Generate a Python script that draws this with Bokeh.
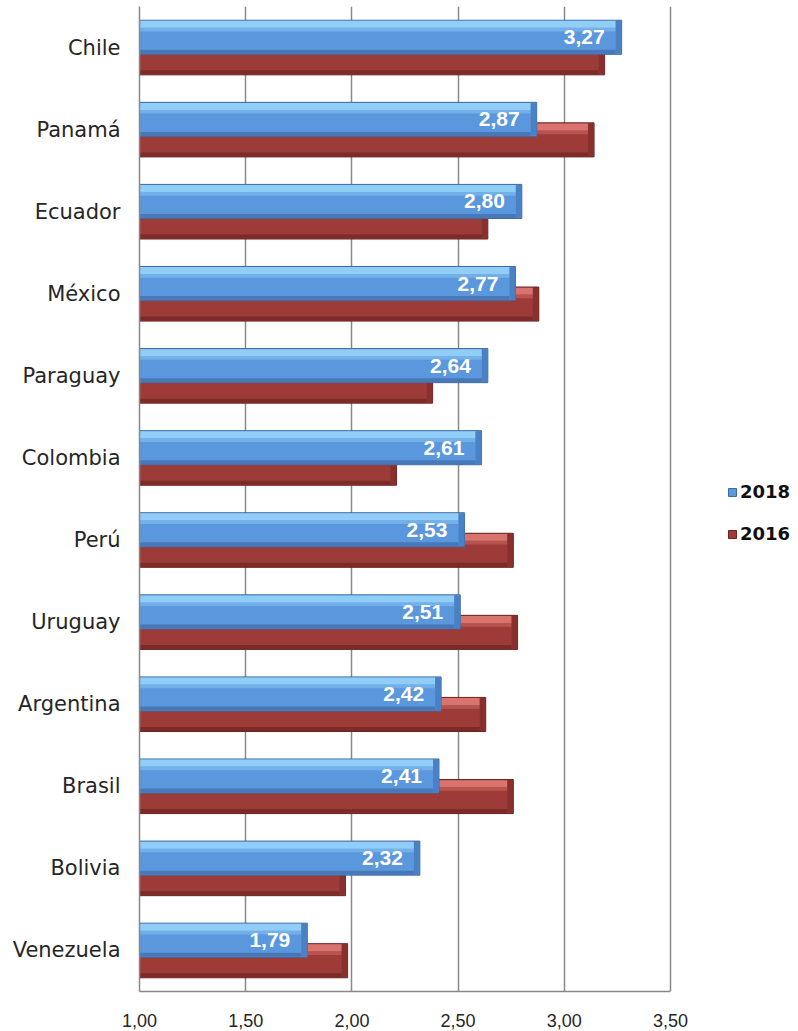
from bokeh.plotting import figure
from bokeh.models import FactorRange, Range1d, FixedTicker, Legend, LegendItem, ColumnDataSource
from bokeh.transform import dodge
from bokeh.core.properties import value
from bokeh.embed import file_html
from bokeh.resources import INLINE

# ---- data ----
countries = ["Chile", "Panamá", "Ecuador", "México", "Paraguay", "Colombia",
             "Perú", "Uruguay", "Argentina", "Brasil", "Bolivia", "Venezuela"]
v2018 = [3.27, 2.87, 2.80, 2.77, 2.64, 2.61, 2.53, 2.51, 2.42, 2.41, 2.32, 1.79]
v2016 = [3.19, 3.14, 2.64, 2.88, 2.38, 2.21, 2.76, 2.78, 2.63, 2.76, 1.97, 1.98]
series = ["2018", "2016"]
x_ticks = [1.0, 1.5, 2.0, 2.5, 3.0, 3.5]
x_tick_labels = ["1,00", "1,50", "2,00", "2,50", "3,00", "3,50"]
labels2018 = [f"{v:.2f}".replace(".", ",") for v in v2018]

BASE = x_ticks[0]

# layout (pixels)
W, H = 798, 1030
LEFT, TOP, BOTTOM = 139, 6, 39
AXIS_PX = 531  # pixel length of the tick span (1,00 .. 3,50)
frame_w = W - LEFT
x_end = x_ticks[0] + (x_ticks[-1] - x_ticks[0]) * frame_w / AXIS_PX

src = ColumnDataSource(dict(country=countries, v2018=v2018, v2016=v2016, lab=labels2018))

p = figure(y_range=FactorRange(factors=countries[::-1]),
           x_range=Range1d(x_ticks[0], x_end),
           width=W, height=H, output_backend="svg", toolbar_location=None,
           min_border_left=LEFT, min_border_right=0, min_border_top=TOP,
           min_border_bottom=BOTTOM)

BAR_H = 0.415
OFF = 0.125
BEV = 0.028


def bar(col, off, main, line, hi, lo, bev):
    yc = dodge("country", off, range=p.y_range)
    r = p.hbar(y=yc, left=BASE, right=col, height=BAR_H, source=src,
               fill_color=main, line_color=line, line_width=1)
    # top highlight
    p.hbar(y=dodge("country", off + BAR_H / 2 - 0.05, range=p.y_range), left=BASE,
           right=dodge(col, -BEV, range=p.x_range), height=0.085, source=src,
           fill_color=hi, line_color=None)
    p.hbar(y=dodge("country", off + BAR_H / 2 - 0.115, range=p.y_range), left=BASE,
           right=dodge(col, -BEV, range=p.x_range), height=0.045, source=src,
           fill_color=hi, fill_alpha=0.45, line_color=None)
    # bottom shade
    p.hbar(y=dodge("country", off - BAR_H / 2 + 0.03, range=p.y_range), left=BASE,
           right=dodge(col, -BEV, range=p.x_range), height=0.05, source=src,
           fill_color=lo, line_color=None)
    # right bevel
    p.hbar(y=yc, left=dodge(col, -BEV, range=p.x_range), right=col, height=BAR_H - 0.02,
           source=src, fill_color=bev, line_color=None)
    return r


r16 = bar("v2016", -OFF, "#9c3b38", "#6a2321", "#d9736e", "#7c2b29", "#87302d")
r18 = bar("v2018", OFF, "#5b97dc", "#3d6aa3", "#90cdf7", "#4878b8", "#4a80c4")

p.text(x="v2018", y=dodge("country", OFF, range=p.y_range), text="lab", source=src,
       x_offset=-17, text_align="right", text_baseline="middle", text_color="white",
       text_font=value("Liberation Sans"), text_font_style="bold", text_font_size="21px")

# axes
p.xaxis.ticker = FixedTicker(ticks=x_ticks)
p.xaxis.bounds = (x_ticks[0], x_ticks[-1])
p.xaxis.major_label_overrides = dict(zip(x_ticks, x_tick_labels))
p.xaxis.axis_line_color = "#888888"
p.xaxis.axis_line_width = 1.5
p.xaxis.major_tick_line_color = None
p.xaxis.minor_tick_line_color = None
p.xaxis.major_label_text_font = "Liberation Sans"
p.xaxis.major_label_text_font_size = "18px"
p.xaxis.major_label_text_color = "#262626"
p.xaxis.major_label_standoff = 16

p.yaxis.axis_line_color = "#888888"
p.yaxis.axis_line_width = 1.5
p.yaxis.major_tick_line_color = None
p.yaxis.minor_tick_line_color = None
p.yaxis.major_label_text_font = "DejaVu Sans"
p.yaxis.major_label_text_font_size = "21px"
p.yaxis.major_label_text_color = "#262626"
p.yaxis.major_label_standoff = 13

p.xgrid.grid_line_color = "#888888"
p.xgrid.grid_line_width = 1.5
p.ygrid.grid_line_color = None
p.outline_line_color = None

legend = Legend(items=[LegendItem(label=series[0], renderers=[r18]),
                       LegendItem(label=series[1], renderers=[r16])],
                location=(588, 447), orientation="vertical")
legend.border_line_color = None
legend.background_fill_alpha = 0
legend.padding = 0
legend.margin = 0
legend.glyph_width = 10
legend.glyph_height = 10
legend.label_standoff = 3
legend.label_height = 20
legend.spacing = 21
legend.label_text_font = "DejaVu Sans"
legend.label_text_font_style = "bold"
legend.label_text_font_size = "18px"
legend.label_text_color = "#111111"
p.add_layout(legend, "center")

open("out.html", "w").write(file_html(p, INLINE))
